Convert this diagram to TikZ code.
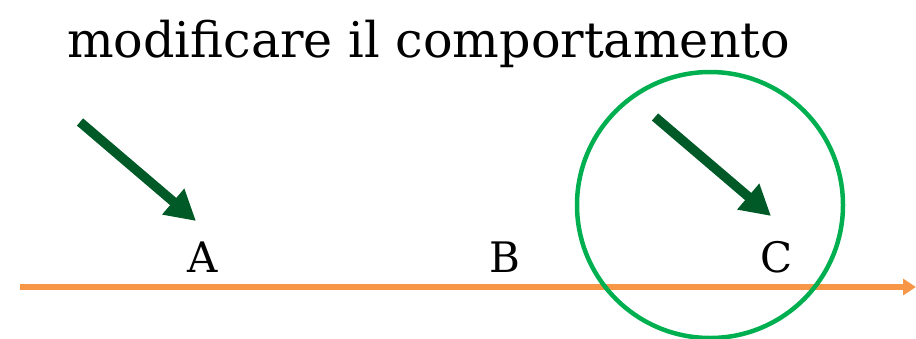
\documentclass[tikz,border=0pt]{standalone}
\usepackage{fontspec}
\setmainfont{DejaVu Serif}
\usetikzlibrary{arrows.meta}
\definecolor{axisorange}{RGB}{247,150,70}
\definecolor{ringgreen}{RGB}{0,176,80}
\definecolor{pointgreen}{RGB}{0,90,40}
\tikzset{
  axisline/.style={draw=axisorange, line width=6pt, -{Triangle[length=13pt,width=16pt]}},
  ring/.style={draw=ringgreen, line width=4.5pt},
  pointer/.style={draw=pointgreen, line width=9.5pt, -{Triangle[length=30pt,width=32pt]}},
  lbl/.style={font=\fontsize{42}{46}\selectfont, inner sep=0pt, anchor=base},
  titletext/.style={font=\fontsize{49.2}{55}\selectfont, inner sep=0pt, anchor=base west}
}
\begin{document}
\begin{tikzpicture}[x=1pt,y=-1pt]
\useasboundingbox (0,0) rectangle (916,338);
\node[titletext] (title) at (67,57) {modificare il comportamento};
\coordinate (axs) at (20,287);
\coordinate (axe) at (916,287);
\draw[axisline] (axs) -- (axe);
\node[ring, circle, minimum size=266pt, inner sep=0pt] (circ) at (710,205) {};
\coordinate (p1s) at (80,122);
\coordinate (p1e) at (196,221);
\coordinate (p2s) at (655,117);
\coordinate (p2e) at (771,216);
\draw[pointer] (p1s) -- (p1e);
\draw[pointer] (p2s) -- (p2e);
\node[lbl] (A) at (203,272) {A};
\node[lbl] (B) at (505,272) {B};
\node[lbl] (C) at (777,272) {C};
\end{tikzpicture}
\end{document}
